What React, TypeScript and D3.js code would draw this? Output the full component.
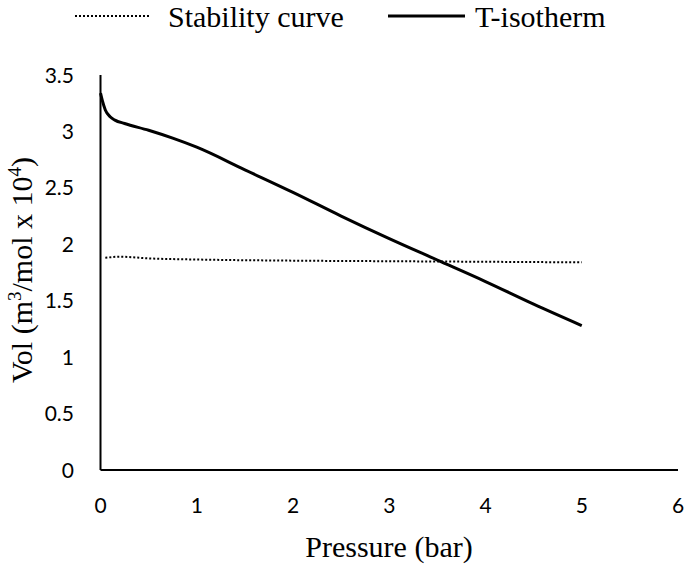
import React, { useEffect, useRef } from 'react';
import * as d3 from 'd3';

// T-isotherm (pressure in bar, volume in m3/mol x 10^4)
const isoP = [0, 0.02, 0.05, 0.1, 0.15, 0.25, 0.5, 0.75, 1, 1.5, 2, 2.5, 3, 3.5, 4, 4.5, 5];
const isoV = [3.34, 3.27, 3.19, 3.13, 3.1, 3.07, 3.01, 2.94, 2.86, 2.66, 2.46, 2.25, 2.05, 1.86, 1.67, 1.47, 1.28];

// Stability curve
const stabP = [0.05, 0.2, 0.5, 1, 2, 3, 4, 5];
const stabV = [1.88, 1.89, 1.875, 1.865, 1.855, 1.85, 1.845, 1.84];

const xTicks = [0, 1, 2, 3, 4, 5, 6];
const yTicks = [0, 0.5, 1, 1.5, 2, 2.5, 3, 3.5];

const App: React.FC = () => {
  const ref = useRef<SVGSVGElement>(null);

  useEffect(() => {
    if (!ref.current) return;
    const svg = d3.select(ref.current);
    svg.selectAll('*').remove();

    const x = d3.scaleLinear().domain([0, 6]).range([100.5, 678]);
    const y = d3.scaleLinear().domain([0, 3.5]).range([470, 75]);

    const tickFont = 'Lato, "Open Sans", sans-serif';
    const serif = '"Liberation Serif", "Times New Roman", serif';

    // axes lines (no tick marks)
    svg.append('line')
      .attr('x1', x(0)).attr('x2', x(0))
      .attr('y1', y(3.5)).attr('y2', y(0))
      .attr('stroke', '#000').attr('stroke-width', 2);
    svg.append('line')
      .attr('x1', x(0)).attr('x2', x(6))
      .attr('y1', y(0)).attr('y2', y(0))
      .attr('stroke', '#000').attr('stroke-width', 2);

    // tick labels
    svg.append('g').selectAll('text')
      .data(yTicks)
      .enter().append('text')
      .attr('x', 74)
      .attr('y', d => y(d))
      .attr('dy', '0.36em')
      .attr('text-anchor', 'end')
      .attr('font-family', tickFont)
      .attr('font-size', 21)
      .text(d => d3.format('')(d));

    svg.append('g').selectAll('text')
      .data(xTicks)
      .enter().append('text')
      .attr('x', d => x(d))
      .attr('y', 505)
      .attr('dy', '0.36em')
      .attr('text-anchor', 'middle')
      .attr('font-family', tickFont)
      .attr('font-size', 21)
      .text(d => String(d));

    // stability curve (dotted)
    const stabData = stabP.map((p, i) => [p, stabV[i]] as [number, number]);
    svg.append('path')
      .datum(stabData)
      .attr('fill', 'none')
      .attr('stroke', '#000')
      .attr('stroke-width', 2)
      .attr('stroke-dasharray', '2,2')
      .attr('d', d3.line().x(d => x(d[0])).y(d => y(d[1])).curve(d3.curveMonotoneX));

    // T-isotherm
    const isoData = isoP.map((p, i) => [p, isoV[i]] as [number, number]);
    svg.append('path')
      .datum(isoData)
      .attr('fill', 'none')
      .attr('stroke', '#000')
      .attr('stroke-width', 3)
      .attr('d', d3.line().x(d => x(d[0])).y(d => y(d[1])).curve(d3.curveMonotoneX));

    // legend
    const legY = 16;
    svg.append('line')
      .attr('x1', 75).attr('x2', 149).attr('y1', legY).attr('y2', legY)
      .attr('stroke', '#000').attr('stroke-width', 2)
      .attr('stroke-dasharray', '2,2');
    svg.append('text')
      .attr('x', 168).attr('y', 27)
      .attr('font-family', serif).attr('font-size', 30)
      .text('Stability curve');
    svg.append('line')
      .attr('x1', 388).attr('x2', 465).attr('y1', legY).attr('y2', legY)
      .attr('stroke', '#000').attr('stroke-width', 3);
    svg.append('text')
      .attr('x', 475).attr('y', 27)
      .attr('font-family', serif).attr('font-size', 30)
      .text('T-isotherm');

    // x axis title
    svg.append('text')
      .attr('x', 389).attr('y', 557)
      .attr('text-anchor', 'middle')
      .attr('font-family', serif).attr('font-size', 30)
      .text('Pressure (bar)');

    // y axis title
    const yt = svg.append('text')
      .attr('transform', 'translate(32,270) rotate(-90)')
      .attr('text-anchor', 'middle')
      .attr('font-family', serif).attr('font-size', 30);
    yt.append('tspan').text('Vol (m');
    yt.append('tspan').attr('font-size', 19).attr('dy', '-11').text('3');
    yt.append('tspan').attr('dy', '11').text('/mol x 10');
    yt.append('tspan').attr('font-size', 19).attr('dy', '-11').text('4');
    yt.append('tspan').attr('dy', '11').text(')');
  }, []);

  return (
    <div style={{ position: 'absolute', left: 0, top: 0, background: '#fff' }}>
      <svg ref={ref} width={685} height={567}></svg>
    </div>
  );
};

export default App;
